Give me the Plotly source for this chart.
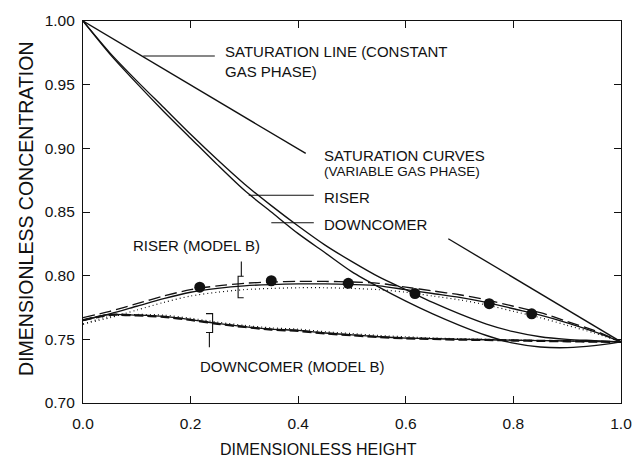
import plotly.graph_objects as go

# ---- data -------------------------------------------------------------
height = [0.0, 0.05, 0.1, 0.15, 0.2, 0.25, 0.3, 0.35, 0.4, 0.45, 0.5,
          0.55, 0.6, 0.65, 0.7, 0.75, 0.8, 0.85, 0.9, 0.95, 1.0]

# saturation curves (variable gas phase)
sat_riser = [1.000, 0.974, 0.951, 0.929, 0.908, 0.887, 0.867, 0.850, 0.833,
             0.818, 0.803, 0.791, 0.780, 0.770, 0.761, 0.753, 0.747, 0.744,
             0.7435, 0.745, 0.748]
sat_downcomer = [1.000, 0.975, 0.953, 0.932, 0.911, 0.891, 0.872, 0.855,
                 0.839, 0.824, 0.811, 0.799, 0.789, 0.779, 0.770, 0.762,
                 0.756, 0.752, 0.750, 0.749, 0.748]

# saturation line (constant gas phase), broken around its label
sat_line_x = [0.0, 0.414, None, 0.679, 1.0]
sat_line_y = [1.000, 0.896, None, 0.829, 0.748]

# riser, model B
riser_b_solid = [0.765, 0.770, 0.776, 0.782, 0.787, 0.790, 0.792, 0.793,
                 0.7935, 0.7935, 0.793, 0.792, 0.789, 0.786, 0.783, 0.779,
                 0.774, 0.769, 0.763, 0.756, 0.748]
riser_b_dash = [0.767, 0.772, 0.778, 0.784, 0.789, 0.792, 0.794, 0.795,
                0.7955, 0.7955, 0.795, 0.794, 0.791, 0.788, 0.785, 0.781,
                0.776, 0.771, 0.764, 0.757, 0.748]
riser_b_dot = [0.762, 0.767, 0.773, 0.779, 0.784, 0.787, 0.789, 0.790,
               0.7905, 0.7905, 0.790, 0.789, 0.787, 0.784, 0.781, 0.777,
               0.772, 0.767, 0.761, 0.755, 0.748]

# downcomer, model B
down_b_solid = [0.765, 0.7695, 0.769, 0.768, 0.7655, 0.7625, 0.760, 0.758,
                0.757, 0.755, 0.7535, 0.752, 0.751, 0.7505, 0.750, 0.7497,
                0.7493, 0.749, 0.7487, 0.7483, 0.748]
down_b_dash = [0.765, 0.7692, 0.7688, 0.7676, 0.7652, 0.7622, 0.7597, 0.7577,
               0.7566, 0.7547, 0.7532, 0.7518, 0.7508, 0.7503, 0.7498, 0.7495,
               0.7491, 0.7488, 0.7485, 0.7482, 0.748]
down_b_dot = [0.762, 0.768, 0.7695, 0.769, 0.7665, 0.7635, 0.761, 0.759,
              0.758, 0.756, 0.7545, 0.753, 0.752, 0.751, 0.7505, 0.750,
              0.7495, 0.749, 0.7487, 0.7483, 0.748]

# measured riser concentrations
meas_x = [0.217, 0.350, 0.493, 0.617, 0.755, 0.834]
meas_y = [0.791, 0.796, 0.794, 0.786, 0.778, 0.770]

x_ticks = [0.0, 0.2, 0.4, 0.6, 0.8, 1.0]
x_tick_text = ["0.0", "0.2", "0.4", "0.6", "0.8", "1.0"]
y_ticks = [0.70, 0.75, 0.80, 0.85, 0.90, 0.95, 1.00]
y_tick_text = ["0.70", "0.75", "0.80", "0.85", "0.90", "0.95", "1.00"]

FONT = "Liberation Sans, Arial, Helvetica, sans-serif"
BLACK = "#111111"

fig = go.Figure()


def curve(x, y, dash="solid", width=1.35, shape="spline"):
    fig.add_trace(go.Scatter(
        x=x, y=y, mode="lines", showlegend=False, hoverinfo="skip",
        line=dict(color=BLACK, width=width, dash=dash, shape=shape,
                  smoothing=0.8),
    ))


curve(sat_line_x, sat_line_y, shape="linear")
curve(height, sat_riser)
curve(height, sat_downcomer)

curve(height, riser_b_dot, dash="1px,3px", width=1.2)
curve(height, riser_b_dash, dash="12px,5px", width=1.35)
curve(height, riser_b_solid)

curve(height, down_b_dot, dash="1px,3px", width=1.2)
curve(height, down_b_solid)
curve(height, down_b_dash, dash="9px,4px", width=2.3)

fig.add_trace(go.Scatter(
    x=meas_x, y=meas_y, mode="markers", showlegend=False, hoverinfo="skip",
    marker=dict(color=BLACK, size=11, line=dict(width=0)),
))

# ---- pointer lines and brackets -----------------------------------------
line_style = dict(color=BLACK, width=1.1)
pointers = [
    (0.112, 0.9725, 0.245, 0.9725),   # saturation line
    (0.308, 0.8632, 0.429, 0.8632),   # riser
    (0.350, 0.8415, 0.429, 0.8415),   # downcomer
    (0.2943, 0.8111, 0.2943, 0.7995),  # riser model B bracket stem
    (0.2349, 0.7554, 0.2349, 0.7437),  # downcomer model B bracket stem
]
for x0, y0, x1, y1 in pointers:
    fig.add_shape(type="line", x0=x0, y0=y0, x1=x1, y1=y1,
                  xref="x", yref="y", line=line_style)

fig.add_shape(type="path", xref="x", yref="y", line=line_style,
              path="M 0.2987,0.7995 L 0.2883,0.7995 L 0.2883,0.7826 L 0.2987,0.7826")
fig.add_shape(type="path", xref="x", yref="y", line=line_style,
              path="M 0.2286,0.7702 L 0.2409,0.7702 L 0.2409,0.7554 L 0.2286,0.7554")

# ---- labels -------------------------------------------------------------
def label(x, y, text, size=15, xanchor="left"):
    fig.add_annotation(x=x, y=y, xref="x", yref="y", text=text,
                       showarrow=False, xanchor=xanchor, yanchor="middle",
                       align="left", font=dict(family=FONT, size=size,
                                               color=BLACK))


label(0.261, 0.9685, "SATURATION LINE (CONSTANT<br>GAS PHASE)")
label(0.445, 0.8943, "SATURATION CURVES")
label(0.445, 0.8819, "(VARIABLE GAS PHASE)", size=13.5)
label(0.445, 0.8617, "RISER")
label(0.445, 0.8399, "DOWNCOMER")
label(0.332, 0.8236, "RISER (MODEL B)", xanchor="right")
label(0.2135, 0.7288, "DOWNCOMER (MODEL B)")

fig.add_annotation(x=0.438, y=-0.122, xref="paper", yref="paper",
                   text="DIMENSIONLESS HEIGHT", showarrow=False,
                   xanchor="center", yanchor="middle",
                   font=dict(family=FONT, size=16, color=BLACK))
fig.add_annotation(x=-0.106, y=0.508, xref="paper", yref="paper",
                   text="DIMENSIONLESS CONCENTRATION", showarrow=False,
                   textangle=-90, xanchor="center", yanchor="middle",
                   font=dict(family=FONT, size=19.5, color=BLACK))

axis_common = dict(
    showgrid=False, zeroline=False, showline=True, linecolor=BLACK,
    linewidth=1.2, mirror="ticks", ticks="inside", ticklen=7, tickwidth=1,
    tickcolor=BLACK, tickfont=dict(family=FONT, size=15.5, color=BLACK),
)

fig.update_layout(
    width=644, height=459,
    margin=dict(l=83, r=13, t=17, b=56),
    paper_bgcolor="white", plot_bgcolor="white",
    xaxis=dict(range=[0, 1], tickvals=x_ticks, ticktext=x_tick_text,
               ticklabelstandoff=6, **axis_common),
    yaxis=dict(range=[0.70, 1.00], tickvals=y_ticks, ticktext=y_tick_text,
               ticklabelstandoff=4, **axis_common),
)

fig.write_html("out.html")
